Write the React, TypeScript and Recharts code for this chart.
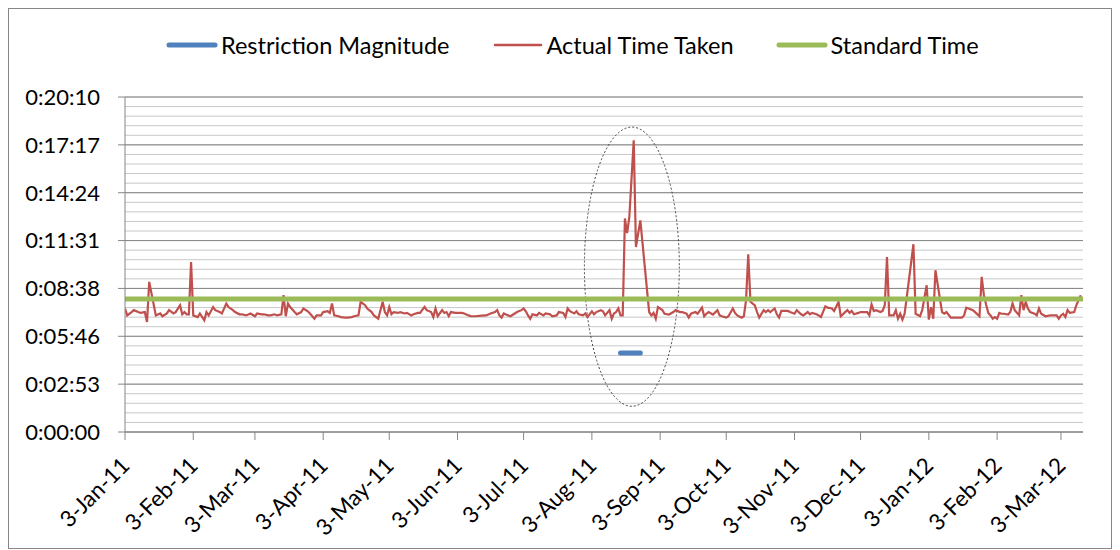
import React from 'react';
import { LineChart, Line, XAxis, YAxis, CartesianGrid, ReferenceArea } from 'recharts';

// x values are days counted from 3-Jan-11
const xTickDays = [0, 31, 59, 90, 120, 151, 181, 212, 243, 273, 304, 334, 365, 396, 425];
const xTickLabels = [
  '3-Jan-11', '3-Feb-11', '3-Mar-11', '3-Apr-11', '3-May-11', '3-Jun-11', '3-Jul-11', '3-Aug-11',
  '3-Sep-11', '3-Oct-11', '3-Nov-11', '3-Dec-11', '3-Jan-12', '3-Feb-12', '3-Mar-12',
];

// y values are seconds
const yTicks = [0, 172.8, 345.6, 518.4, 691.2, 864, 1036.8, 1209.6];
const yTickLabels = ['0:00:00', '0:02:53', '0:05:46', '0:08:38', '0:11:31', '0:14:24', '0:17:17', '0:20:10'];

// [day, seconds]
const actualTime: [number, number][] = [
  [0, 446], [1, 421], [3, 433], [4, 440], [6, 433], [7, 430], [9, 433], [10, 397], [11, 542], [14, 421],
  [16, 428], [17, 418], [19, 428], [20, 440], [22, 428], [23, 433], [25, 458], [26, 425], [27, 433], [28, 425],
  [29, 425], [30, 614], [31, 421], [33, 415], [34, 428], [36, 403], [37, 433], [38, 421], [40, 451], [41, 440],
  [43, 433], [44, 428], [46, 464], [47, 451], [49, 440], [50, 433], [52, 425], [53, 425], [55, 421], [57, 428],
  [59, 418], [60, 428], [62, 425], [63, 425], [65, 421], [66, 421], [68, 425], [69, 421], [71, 425], [72, 494],
  [73, 418], [74, 464], [75, 451], [77, 433], [78, 425], [80, 433], [81, 446], [83, 436], [84, 428], [86, 409],
  [87, 421], [89, 421], [90, 433], [92, 436], [93, 430], [94, 464], [95, 421], [97, 418], [98, 415], [100, 413],
  [101, 413], [103, 415], [104, 418], [106, 421], [107, 470], [109, 458], [110, 446], [112, 433], [113, 421], [115, 409],
  [117, 470], [118, 433], [119, 421], [120, 451], [121, 425], [122, 433], [124, 430], [125, 433], [127, 428], [128, 430],
  [130, 421], [131, 425], [133, 430], [134, 430], [136, 452], [137, 440], [139, 433], [140, 415], [141, 446], [142, 418],
  [144, 440], [145, 430], [146, 433], [147, 418], [148, 433], [150, 430], [151, 430], [153, 430], [154, 428], [156, 421],
  [157, 418], [159, 418], [162, 420], [164, 421], [166, 428], [168, 433], [169, 440], [170, 421], [171, 413], [172, 428],
  [174, 421], [175, 418], [177, 428], [178, 433], [180, 440], [181, 446], [182, 436], [183, 421], [184, 409], [185, 425],
  [187, 421], [188, 430], [190, 421], [191, 428], [193, 425], [194, 418], [196, 421], [197, 433], [199, 430], [200, 415],
  [201, 446], [202, 436], [204, 428], [205, 436], [206, 425], [208, 421], [209, 428], [210, 415], [212, 436], [213, 425],
  [214, 433], [216, 440], [217, 436], [218, 421], [220, 440], [221, 409], [222, 428], [223, 433], [224, 446], [225, 421],
  [226, 421], [227, 771], [228, 718], [229, 776], [231, 1053], [232, 668], [234, 764], [238, 433], [239, 421], [240, 430],
  [241, 409], [242, 451], [244, 440], [245, 427], [247, 424], [249, 433], [250, 440], [252, 433], [253, 433], [255, 427],
  [256, 413], [257, 427], [259, 433], [260, 427], [262, 449], [263, 418], [264, 427], [265, 433], [267, 424], [269, 440],
  [270, 421], [271, 418], [273, 413], [274, 418], [276, 446], [277, 430], [278, 421], [280, 413], [281, 418], [282, 476],
  [283, 642], [284, 470], [286, 457], [287, 433], [288, 413], [290, 440], [291, 433], [292, 440], [293, 433], [295, 446],
  [296, 425], [297, 413], [298, 437], [299, 437], [301, 437], [302, 433], [304, 427], [305, 440], [307, 425], [308, 421],
  [310, 433], [311, 425], [312, 430], [314, 425], [315, 421], [316, 415], [318, 454], [319, 449], [321, 446], [322, 437],
  [324, 470], [325, 418], [327, 433], [328, 440], [329, 430], [330, 437], [331, 425], [333, 430], [334, 433], [336, 433],
  [337, 433], [338, 421], [339, 461], [340, 437], [341, 440], [343, 433], [344, 437], [345, 458], [346, 632], [347, 421],
  [349, 421], [350, 440], [351, 409], [352, 427], [353, 406], [354, 427], [355, 488], [358, 678], [359, 427], [361, 418],
  [362, 440], [364, 530], [365, 406], [366, 451], [367, 409], [368, 584], [371, 433], [372, 427], [373, 433], [375, 413],
  [376, 413], [378, 413], [380, 413], [381, 421], [382, 449], [383, 446], [385, 440], [386, 433], [388, 418], [389, 560],
  [390, 494], [391, 460], [392, 430], [393, 421], [394, 409], [395, 415], [396, 409], [397, 430], [398, 427], [399, 427],
  [401, 424], [402, 433], [403, 464], [404, 440], [406, 421], [407, 494], [408, 440], [409, 470], [410, 446], [411, 433],
  [413, 427], [414, 421], [415, 446], [416, 427], [418, 418], [420, 421], [421, 421], [423, 421], [424, 409], [425, 421],
  [426, 427], [427, 415], [428, 440], [429, 430], [431, 433], [432, 458], [434, 494],
];
const standardTime: [number, number][] = [[0, 480], [435, 480]];
const restriction: [number, number][] = [[225, 285], [234, 285]];

const toRows = (pts: [number, number][]) => pts.map(([day, sec]) => ({ day, sec }));

const BLUE = '#4F81BD';
const RED = '#C0504D';
const GREEN = '#9BBB59';
const AXIS = '#868686';
const FONT = 'Lato, sans-serif';

const minorGrid = Array.from({ length: 36 }, (_, i) => i * 34.56);

const DateTick = (props: any) => {
  const { x, y, payload } = props;
  const label = xTickLabels[xTickDays.indexOf(payload.value)];
  const tx = x + 6;
  const ty = y + 25;
  return (
    <text x={tx} y={ty} transform={`rotate(-45, ${tx}, ${ty})`} textAnchor="end" fontSize={22.5} fontFamily={FONT} fill="#000">
      {label}
    </text>
  );
};

const Ellipse = (props: any) => {
  const { x, y, width, height } = props;
  return (
    <ellipse cx={x + width / 2} cy={y + height / 2} rx={width / 2} ry={height / 2}
      fill="none" stroke="#404040" strokeWidth={1} strokeDasharray="2 2" />
  );
};

const legendItems = [
  { name: 'Restriction Magnitude', color: BLUE, width: 5 },
  { name: 'Actual Time Taken', color: RED, width: 2.5 },
  { name: 'Standard Time', color: GREEN, width: 5 },
];

export default function App() {
  return (
    <div style={{ position: 'relative', width: 1104, height: 541, border: `1px solid ${AXIS}`, boxSizing: 'border-box', background: '#fff' }}>
      <div style={{ position: 'absolute', top: 22, left: 157, display: 'flex', alignItems: 'center', fontFamily: FONT, fontSize: 23.5 }}>
        {legendItems.map((it) => (
          <div key={it.name} style={{ display: 'flex', alignItems: 'center', marginRight: 42 }}>
            <svg width={52} height={12}>
              <line x1={3} x2={49} y1={6} y2={6} stroke={it.color} strokeWidth={it.width} strokeLinecap="round" />
            </svg>
            <span style={{ marginLeft: 3 }}>{it.name}</span>
          </div>
        ))}
      </div>
      <LineChart width={1102} height={539} margin={{ top: 88, right: 28, left: 0, bottom: 0 }}>
        <CartesianGrid vertical={false} horizontalValues={minorGrid} stroke="#C8C8C8" />
        <CartesianGrid vertical={false} horizontalValues={yTicks} stroke={AXIS} />
        <XAxis
          type="number"
          dataKey="day"
          domain={[0, 435]}
          ticks={xTickDays}
          interval={0}
          height={116}
          tickSize={8}
          tick={<DateTick />}
          stroke={AXIS}
          allowDataOverflow
        />
        <YAxis
          type="number"
          domain={[0, 1209.6]}
          ticks={yTicks}
          interval={0}
          width={116}
          tickSize={7}
          tickMargin={18}
          stroke={AXIS}
          tick={{ fill: '#000', fontSize: 22, fontFamily: FONT }}
          tickFormatter={(v: number) => yTickLabels[yTicks.indexOf(v)]}
          allowDataOverflow
        />
        <ReferenceArea x1={208.6} x2={251.7} y1={93} y2={1101} shape={<Ellipse />} />
        <Line data={toRows(restriction)} dataKey="sec" stroke={BLUE} strokeWidth={5} strokeLinecap="round" dot={false} isAnimationActive={false} />
        <Line data={toRows(actualTime)} dataKey="sec" stroke={RED} strokeWidth={2.2} dot={false} isAnimationActive={false} />
        <Line data={toRows(standardTime)} dataKey="sec" stroke={GREEN} strokeWidth={5} dot={false} isAnimationActive={false} />
      </LineChart>
    </div>
  );
}
